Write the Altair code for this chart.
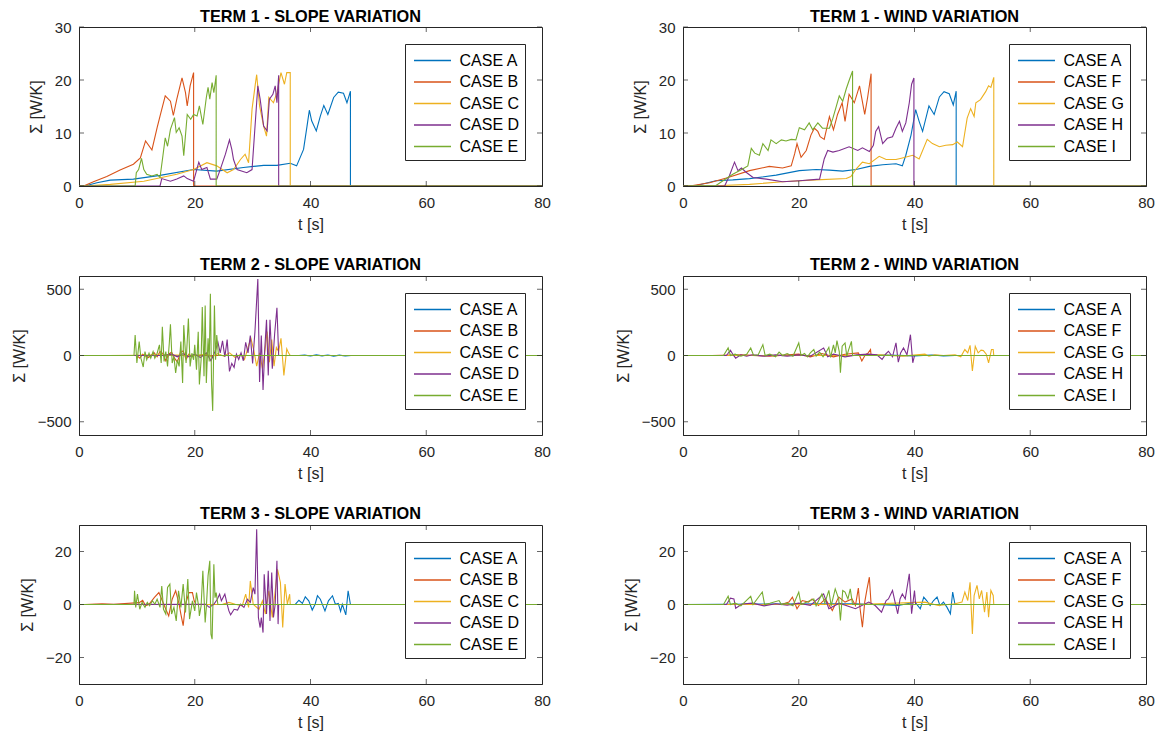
import altair as alt
import pandas as pd

FONT = "Liberation Sans"
COLORS = ["#0072BD", "#D95319", "#EDB120", "#7E2F8E", "#77AC30"]
SLOPE_CASES = ["CASE A", "CASE B", "CASE C", "CASE D", "CASE E"]
WIND_CASES = ["CASE A", "CASE F", "CASE G", "CASE H", "CASE I"]
X_TICKS = [0, 20, 40, 60, 80]
TITLES = ["TERM 1 - SLOPE VARIATION", "TERM 1 - WIND VARIATION",
          "TERM 2 - SLOPE VARIATION", "TERM 2 - WIND VARIATION",
          "TERM 3 - SLOPE VARIATION", "TERM 3 - WIND VARIATION"]

# ---------- TERM 1 - SLOPE ([t, value]) ----------
T1_SLOPE_A = [[1, 0], [3.1, 0.6], [5.4, 1.1], [9.4, 1.3], [14, 2.0], [19.8, 3.1], [23.8, 2.8], [28.4, 3.5],
              [31.9, 3.9], [34.2, 3.9], [36.5, 4.3], [37.6, 3.8], [38.8, 6.9], [39.4, 11.3], [39.8, 14.3],
              [40.2, 12.3], [41, 10.4], [41.7, 13.2], [42.3, 15.2], [43, 13.5], [44, 16.7], [44.8, 17.7],
              [45.7, 17.5], [46.3, 15.7], [46.9, 17.9]]
T1_SLOPE_B = [[0.8, 0], [2.5, 0.8], [4.8, 1.8], [7.1, 3.0], [9.4, 4.1], [10.6, 5.3], [11.5, 8.5], [12.6, 6.8],
              [13.5, 11], [14, 13.2], [14.9, 17], [15.8, 16], [16.3, 13.3], [16.9, 16.4], [17.8, 20.4],
              [18.4, 17.6], [18.7, 15.1], [19.2, 18.9], [19.8, 21.4]]
T1_SLOPE_C = [[1, 0], [5.4, 0.3], [11.2, 0.9], [16.9, 2.2], [19.8, 3.1], [22.1, 4.4], [23.8, 3.8], [25.6, 2.5],
              [26.7, 3.1], [27.9, 5.0], [28.7, 6.0], [29.3, 4.4], [29.9, 14.5], [30.5, 19.5], [30.7, 21],
              [31.2, 15.1], [31.9, 11.3], [32.4, 9.4], [32.8, 16.7], [33.6, 15.7], [34.2, 17.6], [34.9, 21.4],
              [35.5, 19.2], [35.9, 21.4], [36.5, 21.4]]
T1_SLOPE_D = [[14.0, 0], [14.3, 1.4], [15.8, 0.9], [16.9, 1.3], [18.1, 1.9], [18.7, 1.4], [19.8, 0.9], [20.7, 4.5],
              [21.2, 3.1], [22.1, 3.5], [22.7, 1.3], [23.8, 1.3], [24.4, 3.1], [25.3, 6.0], [26.0, 8.7],
              [26.4, 6.9], [26.7, 5.0], [27.3, 3.1], [28.2, 2.8], [29.0, 2.5], [29.9, 3.1], [30.5, 12.6],
              [30.9, 18.9], [31.3, 16.4], [31.9, 11.3], [32.5, 10.4], [32.9, 16.4], [33.5, 17.3], [33.9, 18.9],
              [34.2, 15.7], [34.5, 20.9]]
T1_SLOPE_E = [[9.7, 0], [9.9, 2.5], [10.3, 3.1], [10.8, 5.2], [11.2, 3.1], [11.7, 2.2], [12.6, 1.9], [13.5, 2.2],
              [14.0, 1.6], [14.5, 5.7], [14.9, 9.1], [15.3, 7.5], [15.8, 10.7], [16.5, 12.9], [16.8, 10.1],
              [17.3, 11.0], [17.8, 9.4], [18.1, 5.7], [18.7, 13.5], [19.3, 12.6], [19.8, 13.5], [20.4, 13.2],
              [20.8, 15.1], [21.4, 11.6], [22.0, 16.7], [22.3, 18.6], [22.6, 16.4], [23.0, 19.5], [23.3, 17.6],
              [23.7, 20.9]]

# ---------- TERM 1 - WIND ----------
T1_WIND_A = [[2.3, 0.1], [5.7, 1.0], [8.6, 1.15], [11.5, 1.4], [16.1, 2.05], [20.1, 2.9], [23.0, 3.1], [25.3, 3.0],
             [27.6, 2.8], [29.9, 3.1], [32.2, 3.7], [34.5, 4.0], [36.8, 4.2], [37.9, 3.8], [38.5, 5.8], [39.4, 9.6],
             [40.2, 14.4], [40.8, 12.2], [41.4, 10.3], [42.5, 15.1], [43.4, 13.5], [44.3, 16.8], [45.1, 17.8],
             [46.0, 17.4], [46.7, 15.3], [47.2, 17.9]]
T1_WIND_F = [[1.7, 0.1], [4.6, 0.6], [7.5, 1.5], [11.5, 2.9], [14.9, 3.7], [17.2, 3.4], [18.7, 3.8], [19.3, 6.1],
             [19.7, 8.0], [20.4, 5.4], [21.3, 6.7], [22.1, 9.6], [22.7, 10.9], [23.3, 10.3], [23.7, 9.3], [24.4, 8.8],
             [25.3, 13.1], [26.0, 10.6], [26.7, 13.5], [27.5, 15.7], [28.0, 12.2], [28.7, 17.3], [29.6, 15.7],
             [30.5, 18.9], [31.4, 13.5], [31.9, 16.7], [32.5, 21.2]]
T1_WIND_G = [[5.7, 0.05], [11.5, 0.3], [17.2, 0.8], [23.0, 1.15], [28.2, 1.4], [29.0, 1.8], [29.9, 3.2], [31.0, 4.5],
             [32.2, 4.2], [33.9, 5.6], [35.1, 5.0], [36.8, 5.0], [37.9, 5.3], [39.7, 5.8], [40.8, 5.1], [42.2, 8.8],
             [43.1, 8.0], [44.3, 7.4], [45.4, 7.7], [46.6, 7.8], [47.4, 8.3], [48.3, 7.4], [49.1, 12.8], [49.7, 14.6],
             [50.3, 13.1], [50.6, 15.7], [51.4, 16.3], [52.3, 17.8], [52.8, 18.9], [53.2, 18.6], [53.7, 20.5]]
T1_WIND_H = [[7.2, 0], [8.0, 1.9], [8.9, 4.5], [9.5, 2.9], [10.1, 3.4], [10.9, 2.6], [12.1, 1.6], [14.4, 1.3],
             [17.2, 0.8], [20.1, 1.0], [23.6, 1.3], [24.4, 5.1], [25.0, 6.7], [25.9, 6.4], [27.0, 6.7], [28.7, 7.4],
             [30.2, 6.7], [31.0, 7.2], [32.2, 6.5], [32.9, 7.7], [33.3, 10.3], [33.8, 11.2], [34.5, 8.0], [35.3, 9.0],
             [36.2, 9.3], [36.8, 10.9], [37.4, 12.2], [37.9, 10.3], [38.5, 11.9], [39.1, 15.7], [39.5, 19.2],
             [39.9, 20.4]]
T1_WIND_I = [[5.7, 0.1], [7.5, 1.4], [8.6, 2.2], [10.3, 3.2], [11.2, 3.8], [11.8, 7.1], [12.4, 6.2], [13.2, 5.8],
             [13.8, 8.0], [14.7, 6.7], [15.2, 8.7], [16.1, 8.0], [17.0, 8.7], [17.8, 8.5], [18.7, 8.8], [19.5, 8.7],
             [20.1, 11.0], [21.0, 10.6], [21.8, 11.9], [22.4, 10.6], [23.3, 11.9], [24.1, 10.9], [25.3, 10.9],
             [25.9, 12.8], [26.4, 14.7], [27.0, 17.0], [27.6, 16.0], [28.2, 18.3], [28.7, 19.9], [29.3, 21.7]]

# ---------- TERM 2 - SLOPE ----------
T2_SLOPE_A = [[38, 0], [39, 3], [40, -4], [41, 5], [42, -3], [43, 4], [44, -5], [45, 3], [46, -4], [47, 0]]
T2_SLOPE_B = [[10, 0], [10.5, -20], [11, 10], [12, -15], [13, 20], [13.5, -10], [14, 30], [14.5, 15], [15, -40],
              [15.5, 10], [16, 25], [16.5, -20], [17, -50], [17.5, 20], [18, 35], [18.5, -30], [19, 10],
              [19.5, -10], [19.8, 0]]
T2_SLOPE_C = [[5, 0], [10, 2], [15, 5], [20, 0], [22, 10], [23, -10], [24, 15], [25, -5], [26, 20], [27, -15],
              [28, 10], [28.6, -30], [29.2, 60], [29.7, 130], [30.2, 40], [30.7, -80], [31.2, 20], [31.7, -100],
              [32.2, 60], [32.5, 180], [32.9, -50], [33.3, 120], [33.7, -80], [34.1, 60], [34.5, 30], [34.9, 130],
              [35.4, -150], [35.9, 50], [36.2, 20], [36.5, 0]]
T2_SLOPE_D = [[14.5, 0], [16, 10], [17, -10], [18, 15], [19, -10], [20, 10], [21, -15], [22, 20], [22.8, -40],
              [23.5, 30], [24.0, 100], [24.4, 20], [24.8, 110], [25.2, -10], [25.6, 120], [26.0, -120],
              [26.4, -60], [26.8, -90], [27.2, 10], [27.6, -30], [28.0, 20], [28.4, -40], [28.8, 100], [29.2, 20],
              [29.6, 150], [30.0, -60], [30.4, 180], [30.9, 577], [31.2, -200], [31.5, 150], [31.8, -260],
              [32.1, 50], [32.4, 270], [32.7, -150], [33.0, 270], [33.4, -100], [33.8, 160], [34.2, 360], [34.5, 0]]
T2_SLOPE_E = [[9.5, 0], [9.7, 155], [10.0, -57], [10.4, 105], [10.7, -20], [11.1, -87], [11.4, 30], [11.7, -32],
              [12.1, 17], [12.4, -20], [12.8, 30], [13.1, -20], [13.5, 17], [13.9, 80], [14.2, -57], [14.4, 216],
              [14.7, -45], [15.0, 30], [15.3, -82], [15.6, 92], [15.8, 236], [16.1, -57], [16.4, -7], [16.7, -132],
              [17.0, -32], [17.3, -82], [17.6, 105], [17.9, -207], [18.1, 229], [18.5, -57], [18.9, 279],
              [19.2, -82], [19.5, 17], [19.8, -32], [20.0, 80], [20.3, -107], [20.6, 179], [20.8, -219],
              [21.1, -32], [21.3, 366], [21.6, -157], [21.8, 378], [22.0, -207], [22.3, 130], [22.5, -45],
              [22.7, 466], [22.9, -207], [23.1, -418], [23.4, 378], [23.6, -32], [23.8, 154], [24.1, 0]]

# ---------- TERM 2 - WIND ----------
T2_WIND_A = [[30, 0], [35, 3], [40, -3], [43, 4], [45, -3], [47, 0]]
T2_WIND_F = [[5, 0], [10, 5], [15, -5], [20, 10], [22, -10], [24, 15], [26, -10], [28, 10], [30.3, 20], [30.9, -42],
             [31.5, 5], [32.0, 20], [32.4, 45], [32.5, 0]]
T2_WIND_G = [[30, 0], [34, 5], [38, -5], [41.8, 10], [42.5, -5], [43.5, 5], [45, 0], [47, 5], [48.0, -10],
             [48.7, 45], [49.2, 20], [49.6, 77], [50.0, -117], [50.5, 70], [51.0, 20], [51.5, 40], [51.9, 37],
             [52.4, 10], [52.8, -55], [53.3, 45], [53.6, 45], [53.7, 0]]
T2_WIND_H = [[7.5, 0], [8.2, 40], [8.6, 10], [9.1, -20], [10, 5], [11, -5], [12, 5], [14, -5], [16, 5], [18, -5],
             [20, 5], [22, -5], [24.3, 57], [25, -10], [26, 10], [28, -10], [30, 5], [32, 10], [33.5, 5],
             [34.4, -30], [35, 10], [35.5, 32], [36.2, -10], [36.8, 95], [37.2, -50], [37.6, 20], [38.1, 57],
             [38.7, 5], [39.3, 157], [39.7, -55], [40.0, 0]]
T2_WIND_I = [[7.0, 0], [7.8, 57], [8.2, 0], [9.0, 10], [10, -5], [11, 10], [11.7, 57], [12.2, 0], [13, 5],
             [13.8, 82], [14.2, 0], [15, 10], [16, -10], [16.6, 25], [17.2, 0], [18, 15], [19, -5], [20.0, 95],
             [20.4, 0], [21, 15], [21.5, -10], [22.0, 20], [22.6, 45], [23, -5], [23.6, 25], [24.2, -10],
             [24.8, 30], [25.2, 62], [25.5, -15], [26.0, 80], [26.3, 20], [26.6, 112], [27.0, 30], [27.2, -130],
             [27.5, 70], [28.0, 95], [28.3, -5], [28.6, 40], [29.1, 107], [29.3, 0]]

# ---------- TERM 3 - SLOPE ----------
T3_SLOPE_A = [[36.5, 0], [37.4, 0.1], [38, 1.6], [38.6, 0.4], [39.1, 2.9], [39.7, 1.4], [40.3, -2.1], [40.8, 0.1],
              [41.2, 3.3], [41.7, 2.0], [42.5, -2.4], [43.1, 1.4], [43.8, 3.3], [44.3, 0.1], [44.8, 0.4],
              [45.2, -2.6], [45.5, 0.1], [46.1, -3.9], [46.5, 5.2], [46.9, 0]]
T3_SLOPE_B = [[1, 0], [4, 0.3], [6, 0.1], [10.4, 0.7], [11.0, 1.6], [11.5, -0.5], [12.1, 0.1], [13.0, 2.6],
              [13.8, 4.5], [14.4, 1.4], [15.0, -1.8], [15.5, -4.3], [16.1, 2.0], [16.7, 5.2], [17.3, 0.1],
              [17.6, -3.6], [18.0, -8.0], [18.4, 0.1], [19.0, 4.5], [19.6, 4.5], [19.9, 1.4], [20.2, 0]]
T3_SLOPE_C = [[22, 0], [24.8, 0.1], [25.9, 0.8], [27.0, 0.1], [28.2, -0.5], [28.8, 3.9], [29.3, -1.1], [29.6, 8.9],
              [30.1, 0.1], [31.1, -1.8], [31.7, 1.4], [32.2, -3.6], [32.8, 5.2], [33.4, -4.9], [34.3, 13.3],
              [34.8, 8.3], [35.2, -8.7], [35.6, 7.7], [36.0, 0.1], [36.4, 3.9], [36.5, 0]]
T3_SLOPE_D = [[21.9, 0.1], [22.5, -1.1], [23.3, 0.1], [23.9, 2.0], [24.3, 3.9], [24.6, 1.4], [25.2, 3.9],
              [25.6, 0.1], [25.9, -2.4], [26.2, -3.9], [26.8, -1.8], [27.4, -2.1], [27.9, 0.1], [28.5, -1.1],
              [29.1, 2.0], [29.6, 0.8], [30.1, 6.4], [30.4, 3.9], [30.7, 28.4], [31.0, -4.9], [31.3, -8.7],
              [31.5, -4.9], [31.8, -10.6], [32.0, 11.4], [32.4, -3.6], [32.7, 12.7], [33.0, -6.2], [33.3, 12.1],
              [33.6, -4.9], [33.9, 0.1], [34.2, 16.5], [34.4, -7.4], [34.5, 0]]
T3_SLOPE_E = [[9.5, 0], [9.6, 5.2], [9.8, -1.1], [10.1, 3.9], [10.5, -1.8], [10.9, 0.8], [11.4, -1.1], [11.8, 0.8],
              [12.2, -0.5], [12.7, 1.4], [13.1, 0.1], [13.5, 2.0], [14.0, -1.1], [14.3, 7.0], [14.6, -1.8],
              [15.0, -3.6], [15.3, 6.4], [15.7, 7.7], [16.0, -3.6], [16.4, -1.1], [16.8, -6.2], [17.2, 5.2],
              [17.6, -1.1], [18.0, 7.7], [18.4, -3.0], [18.8, 9.6], [19.1, -5.5], [19.6, 1.4], [20.0, -2.4],
              [20.3, 4.5], [20.7, -1.1], [20.8, -4.3], [21.1, -0.5], [21.4, 12.7], [21.8, -6.8], [22.0, -1.1],
              [22.3, 10.8], [22.6, 16.5], [22.8, -11.2], [23.0, -13.1], [23.3, 15.2], [23.5, 2.6], [23.7, 4.5],
              [24.0, 0]]

# ---------- TERM 3 - WIND ----------
T3_WIND_A = [[29.8, 0.3], [37.2, -0.4], [40.1, 0.9], [41.0, -1.6], [41.6, 2.8], [42.1, 1.5], [42.7, -0.4],
             [43.3, 1.5], [43.9, 2.8], [44.4, -0.4], [45.0, 0.9], [45.6, -1.0], [46.2, -3.5], [46.6, 4.7], [47.0, 0]]
T3_WIND_F = [[17, 0], [18.3, 0.9], [18.9, 2.8], [19.7, -1.6], [20.6, 1.5], [21.7, 0.9], [22.3, 2.1], [23.4, -0.4],
             [24.6, 2.1], [25.8, -2.3], [26.9, 2.8], [28.0, 0.9], [29.2, 2.1], [29.8, -0.4], [30.3, 6.2],
             [30.6, -1.6], [31.0, -8.6], [31.4, 0.9], [31.8, 5.9], [32.2, 10.3], [32.5, 0]]
T3_WIND_G = [[30, 0], [41.8, 0.9], [44.1, -0.4], [47.0, 0.3], [48.2, 0.9], [48.7, 4.7], [49.2, 1.5], [49.6, 8.4],
             [50.0, -11.1], [50.3, 3.4], [50.8, 7.2], [51.2, 2.1], [51.6, 5.3], [52.1, -2.9], [52.5, 4.7],
             [52.8, -4.8], [53.2, 5.3], [53.6, 3.4], [53.7, 0]]
T3_WIND_H = [[7.5, 0], [8.2, 2.4], [8.8, 2.1], [9.1, -1.4], [10.2, 0.2], [12, 0.5], [14, -0.5], [16, 0.3],
             [18, -0.3], [20, 0.5], [22, -0.3], [24.3, 4.0], [25.2, -1.6], [27, 0.5], [29.8, -1.6], [32.1, 0.9],
             [33.2, -0.4], [34.3, -2.9], [35.1, 1.5], [35.5, 2.1], [36.2, 5.3], [36.7, 0.3], [37.1, -3.5],
             [37.5, 2.1], [37.9, 4.0], [38.4, 2.1], [39.1, 11.6], [39.5, -3.5], [40.0, 5.3], [40.2, 0]]
T3_WIND_I = [[7.0, 0], [7.8, 3.1], [8.2, 0], [9, 0.5], [10, -0.5], [11.7, 3.1], [12.1, 0], [13.7, 4.7], [14.1, 0],
             [15, 0.5], [16.6, 1.5], [17, 0], [18, 0.5], [19, -0.5], [20.0, 4.7], [20.4, 0], [21.5, 1.0],
             [22.6, 2.1], [23.0, -0.5], [24.0, 4.0], [24.5, 0.5], [25.2, 5.3], [25.6, -0.5], [26.3, 5.9],
             [26.9, 2.1], [27.2, -6.0], [27.6, 5.3], [28.0, 4.7], [28.5, 2.1], [28.9, 5.9], [29.3, 0]]

Y_DOMAINS = [[0, 30], [-600, 600], [-30, 30]]
Y_TICKS = [[0, 10, 20, 30], [-500, 0, 500], [-20, 0, 20]]

PANELS = [
    (SLOPE_CASES, [T1_SLOPE_A, T1_SLOPE_B, T1_SLOPE_C, T1_SLOPE_D, T1_SLOPE_E], 0),
    (WIND_CASES, [T1_WIND_A, T1_WIND_F, T1_WIND_G, T1_WIND_H, T1_WIND_I], 0),
    (SLOPE_CASES, [T2_SLOPE_A, T2_SLOPE_B, T2_SLOPE_C, T2_SLOPE_D, T2_SLOPE_E], 1),
    (WIND_CASES, [T2_WIND_A, T2_WIND_F, T2_WIND_G, T2_WIND_H, T2_WIND_I], 1),
    (SLOPE_CASES, [T3_SLOPE_A, T3_SLOPE_B, T3_SLOPE_C, T3_SLOPE_D, T3_SLOPE_E], 2),
    (WIND_CASES, [T3_WIND_A, T3_WIND_F, T3_WIND_G, T3_WIND_H, T3_WIND_I], 2),
]

AX = "#262626"


def build(cases, series):
    rows = []
    for case, pts in zip(cases, series):
        seq = [(0.0, 0.0)] + [(float(p[0]), float(p[1])) for p in pts]
        end = pts[-1][0]
        seq += [(float(end), 0.0), (80.0, 0.0)]
        for i, (t, v) in enumerate(seq):
            rows.append({"case": case, "t": t, "v": v, "i": i})
    return pd.DataFrame(rows)


def panel(title, cases, series, row):
    ydom = Y_DOMAINS[row]
    yt = Y_TICKS[row]
    df = build(cases, series)
    X = alt.X("t:Q", scale=alt.Scale(domain=[0, 80], nice=False, zero=False),
              axis=alt.Axis(values=X_TICKS, title="t [s]", labelFlush=False, ticks=False, grid=False,
                            labelPadding=9, titlePadding=6, format="d"))
    Y = alt.Y("v:Q", scale=alt.Scale(domain=ydom, nice=False, zero=False),
              axis=alt.Axis(values=yt, title="Σ [W/K]", ticks=False, grid=False,
                            labelPadding=8, titlePadding=10, format="d"))
    lines = alt.Chart(df).mark_line(strokeWidth=1.1, clip=True).encode(
        x=X, y=Y,
        color=alt.Color("case:N", scale=alt.Scale(domain=cases, range=COLORS),
                        legend=alt.Legend(orient="none", legendX=326, legendY=17, title=None,
                                          symbolType="M-1.85,0H1.85", symbolSize=400,
                                          symbolStrokeWidth=1.3, symbolOffset=11,
                                          labelFont=FONT, labelFontSize=16, labelColor="black",
                                          labelOffset=16, padding=5.5, rowPadding=2.5,
                                          strokeColor=AX, fillColor="white")),
        order="i:Q",
    )
    inner = [v for v in X_TICKS[1:-1]]
    bot = pd.DataFrame({"t": inner, "v": [ydom[0]] * len(inner)})
    top = pd.DataFrame({"t": inner, "v": [ydom[1]] * len(inner)})
    left = pd.DataFrame({"t": [0] * len(yt), "v": yt})
    right = pd.DataFrame({"t": [80] * len(yt), "v": yt})
    tk = dict(color=AX, thickness=1, size=5)
    layers = [
        lines,
        alt.Chart(bot).mark_tick(orient="vertical", yOffset=-2.5, **tk).encode(x=X, y=Y),
        alt.Chart(top).mark_tick(orient="vertical", yOffset=2.5, **tk).encode(x=X, y=Y),
        alt.Chart(left).mark_tick(orient="horizontal", xOffset=2.5, **tk).encode(x=X, y=Y),
        alt.Chart(right).mark_tick(orient="horizontal", xOffset=-2.5, **tk).encode(x=X, y=Y),
    ]
    title_offset = -5 if row == 0 else 2.5
    return alt.layer(*layers).properties(
        width=463, height=159,
        title=alt.TitleParams(text=title, font=FONT, fontSize=16.3, fontWeight="bold", color="black",
                              offset=title_offset),
    )


charts = [panel(TITLES[k], c, s, r) for k, (c, s, r) in enumerate(PANELS)]

chart = alt.concat(*charts, columns=2, spacing={"row": 23, "column": 63}).resolve_scale(
    color="independent", x="independent", y="independent"
).resolve_legend(color="independent").properties(
    padding={"top": 0, "bottom": 0, "left": 2, "right": 2}
).configure_view(
    stroke=AX, strokeWidth=1
).configure_axis(
    labelFont=FONT, labelFontSize=15, labelColor=AX, titleFont=FONT, titleFontSize=16,
    titleFontWeight="normal", titleColor=AX, domainColor=AX, domainWidth=1,
)

chart.save("out.html", embed_options={"renderer": "svg", "actions": False})
